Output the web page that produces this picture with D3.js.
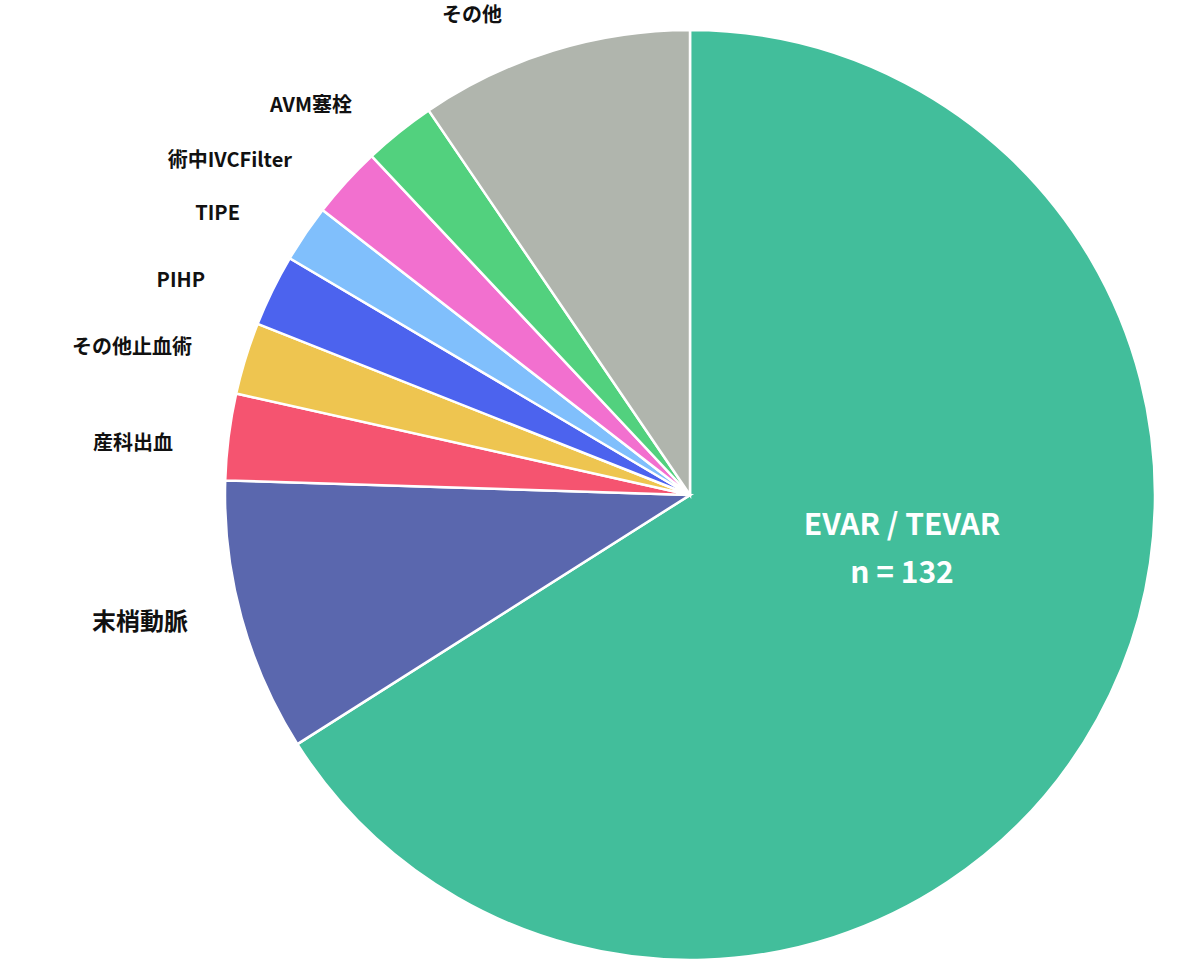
<!DOCTYPE html>
<html><head><meta charset="utf-8">
<script src="https://cdn.jsdelivr.net/npm/d3@7"></script>
<style>body{margin:0;background:#fff}text{font-family:"Noto Sans CJK JP","Noto Sans",sans-serif;font-weight:700}</style>
</head><body>
<svg id="chart" width="1200" height="961"></svg>
<script>
const categories = ["EVAR / TEVAR","末梢動脈","産科出血","その他止血術","PIHP","TIPE","術中IVCFilter","AVM塞栓","その他"];
const counts = [132,19,6,5,5,4,5,5,19];
const colors = ["#42be9b","#5a67ae","#f55470","#eec550","#4c63ee","#80bffc","#f270cf","#52d17e","#b0b5ad"];

// outside label placement (anchor end), by category index
const labelPos = [null,[188,622,24],[173,443,20],[192,347,20],[205,280,20],[240,213,20],[292,160,20],[352,105,20],[502,15,20]];

const cx = 690, cy = 495, r = 465;
const svg = d3.select("#chart");
const g = svg.append("g").attr("transform", `translate(${cx},${cy})`);

const pie = d3.pie().sort(null).value(d => d)(counts);
const arc = d3.arc().innerRadius(0).outerRadius(r);

g.selectAll("path").data(pie).join("path")
  .attr("d", arc)
  .attr("fill", (d,i) => colors[i])
  .attr("stroke", "#fff").attr("stroke-width", 2.5);

// main slice label
const c = d3.arc().innerRadius(0).outerRadius(r * 0.9).centroid(pie[0]);
const t = g.append("text").attr("text-anchor","middle").attr("fill","#fff").attr("font-size",30);
t.append("tspan").attr("x", 212).attr("y", 40).text(categories[0]);
t.append("tspan").attr("x", 212).attr("y", 88).text("n = " + counts[0]);

svg.selectAll("text.lab").data(labelPos.slice(1)).join("text")
  .attr("class","lab")
  .attr("x", d => d[0]).attr("y", d => d[1])
  .attr("dy","0.35em")
  .attr("text-anchor","end")
  .attr("font-size", d => d[2])
  .attr("fill","#111")
  .text((d,i) => categories[i+1]);
</script>
</body></html>
